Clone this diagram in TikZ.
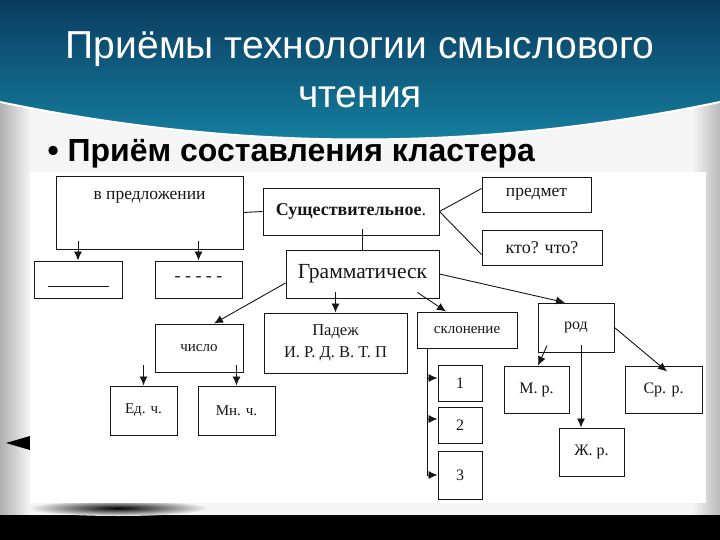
\documentclass[tikz,border=0pt]{standalone}
\usepackage{fontspec}
\setmainfont{Liberation Serif}
\newfontfamily\headfont{Liberation Sans}
\usetikzlibrary{arrows.meta}
\definecolor{bannerdark}{RGB}{10,60,96}
\definecolor{bannerlight}{RGB}{22,132,164}
\definecolor{ink}{RGB}{22,22,22}

\begin{document}
\begin{tikzpicture}[x=1pt,y=-1pt,
  >={Latex[length=9pt,width=8pt]},
  box/.style={draw=ink,line width=0.95pt,fill=white,inner sep=1pt,text=ink,
    font=\fontsize{16}{18}\selectfont},
  boxsize/.style 2 args={minimum width=#1pt,minimum height=#2pt},
  lab/.style={anchor=center,text=ink,font=\fontsize{17.5}{20}\selectfont},
  link/.style={draw=ink,line width=0.9pt},
  headline/.style={anchor=base,text=white,font=\headfont\fontsize{39}{42}\selectfont}]
  \useasboundingbox (0,0) rectangle (720,540);
  % slide background
  \fill[gray!8] (0,0) rectangle (720,515);
  \shade[left color=gray!62,right color=gray!8] (0,90) rectangle (30,515);
  \shade[left color=gray!8,right color=gray!55] (692,90) rectangle (720,515);
  \shade[top color=bannerdark,bottom color=bannerlight]
    (0,0) -- (720,0) -- (720,102) .. controls (480,152) and (240,152) .. (0,102) -- cycle;
  \draw[white,line width=2pt] (720,102) .. controls (480,152) and (240,152) .. (0,102);
  \fill[black] (0,515) rectangle (720,540);
  \shade[inner color=black,outer color=gray!8] (118,508) ellipse (90 and 8);
  \fill[black] (30,436) -- (6,443) -- (30,450) -- cycle;
  \fill[white] (30,172) rectangle (706,503);
  \node[headline] (head1) at (360,59) {Приёмы технологии смыслового};
  \node[headline] (head2) at (360,108) {чтения};
  \node[anchor=base west,font=\headfont\bfseries\fontsize{32}{34}\selectfont]
    (item) at (44,162) {• Приём составления кластера};

  % cluster
  \node[box,boxsize={187}{73},label={[lab,yshift=-22pt]north:в предложении}]
    (pred) at (149.5,212.5) {};
  \node[box,boxsize={88}{37},label={[lab,yshift=-7pt]center:\rule{61pt}{0.9pt}}]
    (low1) at (78,279.5) {};
  \node[box,boxsize={87}{37},font=\fontsize{18}{20}\selectfont] (low2) at (198.5,279.5) {-\ -\ -\ -\ -};
  \node[box,boxsize={176}{47},font=\fontsize{18}{20}\selectfont]
    (noun) at (351,211.5) {\textbf{Существительное}.};
  \node[box,boxsize={153}{48},font=\fontsize{21.5}{24}\selectfont] (gram) at (362.5,274) {Грамматическ};
  \node[box,boxsize={109}{35},font=\fontsize{17.5}{20}\selectfont] (obj) at (536.5,194.5) {предмет};
  \node[box,boxsize={120}{35},font=\fontsize{18}{20}\selectfont] (who) at (542,247.5) {кто? что?};
  \node[box,boxsize={88}{48},font=\fontsize{15}{18}\selectfont] (num) at (199,348) {число};
  \node[box,boxsize={143}{60},align=center,font=\fontsize{16.5}{22}\selectfont]
    (case) at (335.5,343) {Падеж\\И. Р. Д. В. Т. П};
  \node[box,boxsize={100}{36},font=\fontsize{15}{18}\selectfont] (decl) at (467,330) {склонение};
  \node[box,boxsize={76}{49}] (gender) at (576,327.5) {род};
  \foreach \d/\y/\h/\t in {d1/383/36/1, d2/425/36/2, d3/475/48/3}
    \node[box,boxsize={44}{\h}] (\d) at (460,\y) {\t};
  \node[box,boxsize={65}{47}] (masc) at (536.5,389.5) {М. р.};
  \node[box,boxsize={77}{47}] (neut) at (663.5,389.5) {Ср. р.};
  \node[box,boxsize={65}{48}] (fem) at (591.5,452) {Ж. р.};
  \node[box,boxsize={67}{49},font=\fontsize{15}{18}\selectfont] (sing) at (143.5,410.5) {Ед. ч.};
  \node[box,boxsize={77}{49},font=\fontsize{15}{18}\selectfont] (plur) at (236.5,410.5) {Мн. ч.};

  \draw[link] (pred.east) -- (noun.west);
  \draw[link,shorten <=-6pt] (noun.south -| gram.north) -- (gram.north);
  \draw[link] (noun.east) -- ([yshift=6pt]obj.west);
  \draw[link] (noun.east) -- ([yshift=-7pt]who.west);
  \draw[link,->,xshift=11pt,shorten <=-8pt] (pred.south -| low1.north) -- (low1.north);
  \draw[link,->,shorten <=-8pt] (pred.south -| low2.north) -- (low2.north);
  \draw[link,->] ([yshift=-9pt]gram.west) -- ([xshift=15pt]num.north);
  \draw[link,->,xshift=4pt,shorten <=-6pt] (gram.south -| case.north) -- (case.north);
  \draw[link,->] ([xshift=-22pt,yshift=6pt]gram.south east) -- ([xshift=-21pt]decl.north);
  \draw[link,->] (gram.east) -- ([xshift=-11pt]gender.north);
  \draw[link,->,xshift=21pt,shorten <=-7pt] (num.south -| sing.north) -- (sing.north);
  \draw[link,->,xshift=-16pt,shorten <=-7pt] (num.south -| plur.north) -- (plur.north);
  \draw[link,->] ([xshift=-40pt]decl.south) |- (d3.west);
  \foreach \d/\s in {d1/5, d2/6}
    \draw[link,->] ([xshift=-40pt]decl.south |- \d.west) ++(0,-\s) -- ([yshift=\s pt]\d.west);
  \draw[link,->] ([xshift=-29pt,yshift=7pt]gender.south) -- ([xshift=1.5pt]masc.north);
  \draw[link,->,shorten <=-7pt] ([xshift=5pt]gender.south) -- ([xshift=-10.5pt]fem.north);
  \draw[link,->] (gender.east) -- ([xshift=3.5pt,yshift=-6pt]neut.north);
\end{tikzpicture}
\end{document}
